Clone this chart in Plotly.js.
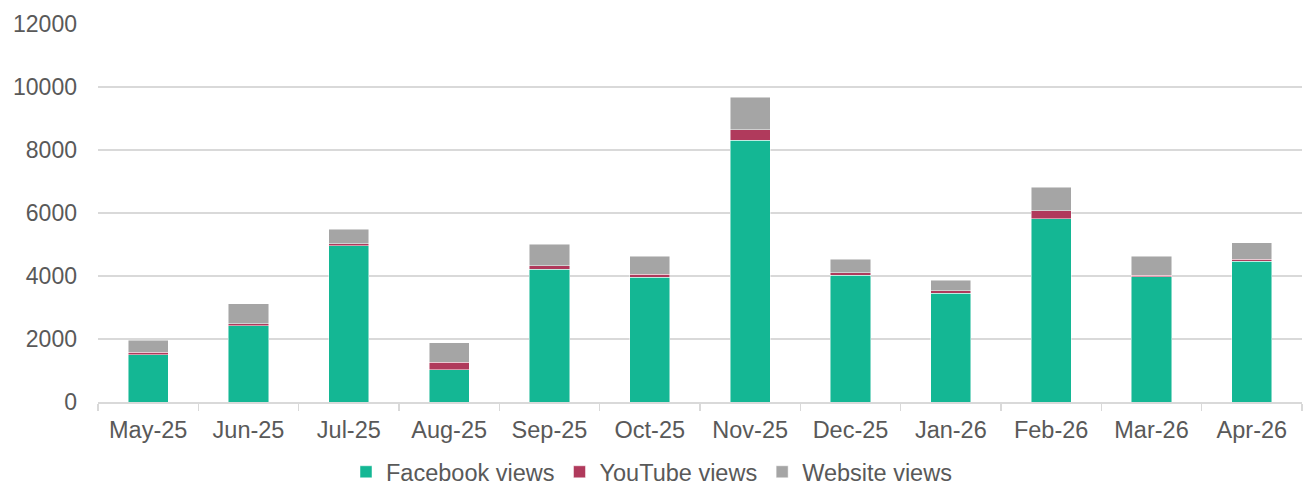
<!DOCTYPE html>
<html>
<head>
<meta charset="utf-8">
<script src="https://cdn.plot.ly/plotly-3.0.1.min.js"></script>
<style>html,body{margin:0;padding:0;background:#fff;overflow:hidden;width:1303px;height:484px;}#chart{width:1303px;height:494px;}</style>
</head>
<body>
<div id="chart"></div>
<script>
const months = ["May-25","Jun-25","Jul-25","Aug-25","Sep-25","Oct-25","Nov-25","Dec-25","Jan-26","Feb-26","Mar-26","Apr-26"];
const facebookViews = [1495, 2415, 4960, 1030, 4220, 3960, 8310, 4020, 3450, 5810, 3975, 4465];
const youtubeViews  = [85, 65, 65, 233, 105, 100, 330, 85, 80, 265, 55, 65];
const websiteViews  = [385, 635, 460, 614, 680, 570, 1040, 425, 330, 745, 605, 530];
const yTicks = [0, 2000, 4000, 6000, 8000, 10000, 12000];

const font = {family: '"Liberation Sans", Arial, sans-serif', color: '#595959'};
const mk = (name, y, color) => ({
  type: 'bar', name: name, x: months, y: y,
  marker: {color: color, line: {color: 'rgba(255,255,255,0.6)', width: 0.8}},
  hoverinfo: 'skip'
});
const data = [
  mk('Facebook views', facebookViews, '#14B794'),
  mk('YouTube views', youtubeViews, '#B03A5C'),
  mk('Website views', websiteViews, '#A5A5A5')
];
const layout = {
  width: 1303, height: 494,
  margin: {l: 98, r: 1, t: 24, b: 92, autoexpand: false},
  barmode: 'stack', bargap: 0.6,
  paper_bgcolor: '#fff', plot_bgcolor: '#fff',
  font: font,
  showlegend: true,
  legend: {orientation: 'h', x: 0.5, xref: 'container', xanchor: 'center',
           y: 0, yref: 'container', yanchor: 'bottom', bgcolor: 'rgba(0,0,0,0)',
           font: {family: font.family, color: '#595959', size: 23.5}, traceorder: 'normal', itemwidth: 30},
  xaxis: {
    type: 'category', showgrid: false, zeroline: false, automargin: false,
    showline: true, linecolor: '#d9d9d9', linewidth: 1.5,
    ticks: 'outside', tickson: 'boundaries', ticklen: 7, tickcolor: '#d9d9d9', tickwidth: 1.5,
    ticklabelstandoff: 6,
    tickfont: {size: 23.5, color: '#595959', family: font.family}
  },
  yaxis: {
    range: [0, 12000], tickvals: yTicks, ticktext: yTicks.map(String), automargin: false,
    showgrid: true, gridcolor: '#d9d9d9', gridwidth: 1.5,
    zeroline: false, showline: false, ticks: '', ticklabelstandoff: 20,
    tickfont: {size: 23, color: '#595959', family: font.family}
  }
};
Plotly.newPlot('chart', data, layout, {displayModeBar: false, staticPlot: true});
</script>
</body>
</html>
